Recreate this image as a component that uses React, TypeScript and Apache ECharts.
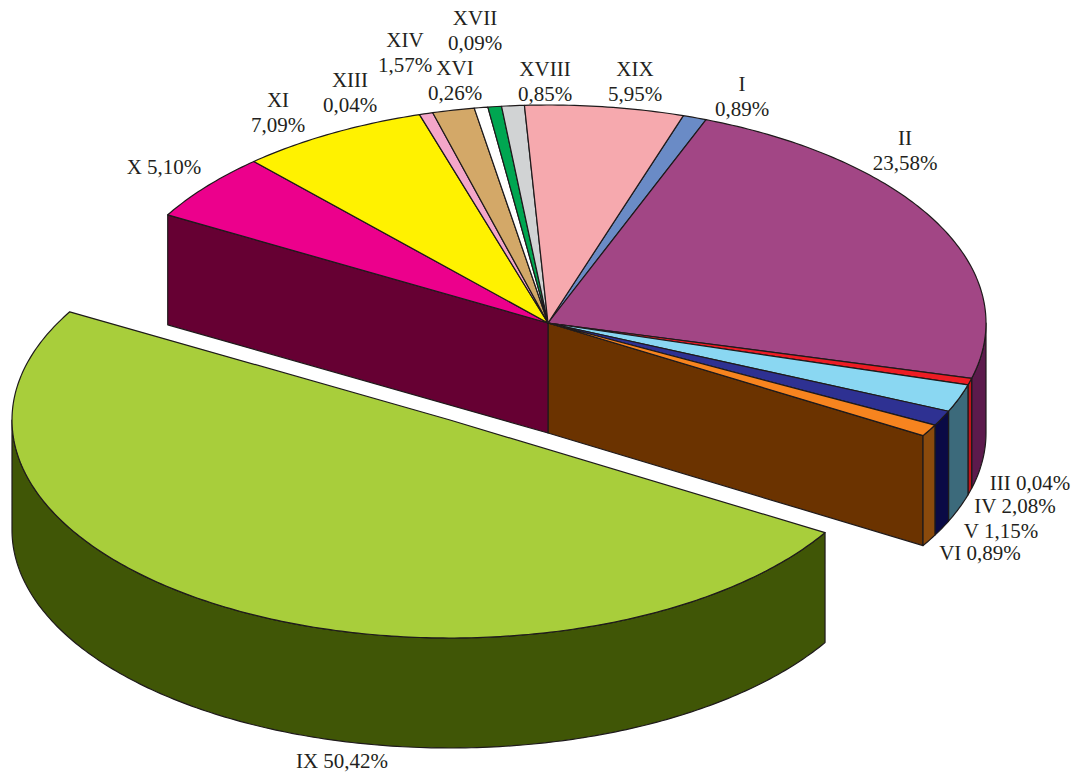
import { useEffect, useRef } from "react";
import * as echarts from "echarts";

// ---- data ----
const CATEGORIES = ["I", "II", "III", "IV", "V", "VI", "IX", "X", "XI", "XIII", "XIV", "XVI", "XVII", "XVIII", "XIX"];
const VALUES = [0.89, 23.58, 0.04, 2.08, 1.15, 0.89, 50.42, 5.1, 7.09, 0.04, 1.57, 0.26, 0.09, 0.85, 5.95];
const EXPLODED = ["IX"];

// ---- styles ----
const TOP_COLORS = ["#6A8BC6", "#A24685", "#ED1C24", "#8AD7F2", "#2E3192", "#F7841F", "#A8CE3B", "#EC008C", "#FFF200", "#F4A6C9", "#D3A868", "#FFFFFF", "#00A651", "#D1D3D4", "#F6A9AE"];
const SIDE_COLORS = ["#3D5585", "#5C1A4C", "#C0141B", "#3C6A7B", "#0A0A45", "#8A4A0C", "#405606", "#7A003F", "#B5A800", "#B06A88", "#8E6A38", "#BBBBBB", "#006B33", "#8F9192", "#B06A70"];
const FACE_COLORS = ["#2E4068", "#4A123C", "#900E14", "#2C4F5C", "#050530", "#6B3300", "#33460A", "#660033", "#8A8000", "#8A5068", "#6E5028", "#999999", "#004F25", "#6F7172", "#8A5054"];

const LABEL_LAYOUT: Record<string, { x: number; y: number; twoLine: boolean }> = {
  I: { x: 742, y: 96, twoLine: true },
  II: { x: 905, y: 150, twoLine: true },
  III: { x: 1030, y: 483, twoLine: false },
  IV: { x: 1015, y: 506, twoLine: false },
  V: { x: 1001, y: 531, twoLine: false },
  VI: { x: 980, y: 553, twoLine: false },
  IX: { x: 342, y: 761, twoLine: false },
  X: { x: 164, y: 167, twoLine: false },
  XI: { x: 278, y: 112, twoLine: true },
  XIII: { x: 350, y: 92, twoLine: true },
  XIV: { x: 405, y: 52, twoLine: true },
  XVI: { x: 455, y: 80, twoLine: true },
  XVII: { x: 475, y: 30, twoLine: true },
  XVIII: { x: 545, y: 81, twoLine: true },
  XIX: { x: 635, y: 81, twoLine: true },
};

const GEO = {
  cx: 548,
  cy: 323,
  rx: 438,
  ry: 218,
  depth: 110,
  startAngle: -72,
  minAngle: 1.8,
  explodeX: -98,
  explodeY: 97,
};

const STROKE = "#1e1a1b";
const FONT = "Liberation Serif, serif";

function computeAngles(values: number[]) {
  const total = values.reduce((s, v) => s + v, 0);
  const raw = values.map((v) => (v / total) * 360);
  const small = raw.map((a) => a < GEO.minAngle);
  const fixed = small.filter(Boolean).length * GEO.minAngle;
  const rest = raw.reduce((s, a, i) => (small[i] ? s : s + a), 0);
  const k = (360 - fixed) / rest;
  const spans = raw.map((a, i) => (small[i] ? GEO.minAngle : a * k));
  const out: [number, number][] = [];
  let cur = GEO.startAngle;
  spans.forEach((s) => {
    out.push([cur, cur + s]);
    cur += s;
  });
  return out;
}

export default function App() {
  const ref = useRef<HTMLDivElement>(null);

  useEffect(() => {
    document.body.style.margin = "0";
    if (!ref.current) return;
    const chart = echarts.init(ref.current, undefined, { renderer: "svg" });
    const angles = computeAngles(VALUES);
    const n = VALUES.length;
    const rad = (d: number) => (d * Math.PI) / 180;

    const renderItem = (params: any) => {
      const i = params.dataIndex;
      const name = CATEGORIES[i];
      const [a0, a1] = angles[i];
      const isEx = EXPLODED.includes(name);
      const ox = isEx ? GEO.explodeX : 0;
      const oy = isEx ? GEO.explodeY : 0;
      const zb = isEx ? 20 : 0;
      const cx = GEO.cx + ox;
      const cy = GEO.cy + oy;
      const pt = (a: number, dy = 0): number[] => [cx + GEO.rx * Math.cos(rad(a)), cy + GEO.ry * Math.sin(rad(a)) + dy];
      const arc = (from: number, to: number, dy = 0) => {
        const steps = Math.max(2, Math.ceil(Math.abs(to - from) / 0.75));
        const pts: number[][] = [];
        for (let s = 0; s <= steps; s++) pts.push(pt(from + ((to - from) * s) / steps, dy));
        return pts;
      };
      const children: any[] = [];
      const style = (fill: string) => ({ fill, stroke: STROKE, lineWidth: 1.2, lineJoin: "round" });

      // radial faces (only where a neighbour is exploded or the slice itself is)
      const prevEx = EXPLODED.includes(CATEGORIES[(i - 1 + n) % n]);
      const nextEx = EXPLODED.includes(CATEGORIES[(i + 1) % n]);
      const faceAt = (a: number) => [[cx, cy], pt(a), pt(a, GEO.depth), [cx, cy + GEO.depth]];
      if ((isEx || prevEx) && Math.sin(rad(a0 - 90)) > 0) {
        children.push({ type: "polygon", shape: { points: faceAt(a0) }, style: style(FACE_COLORS[i]), z2: zb + 1 });
      }
      if ((isEx || nextEx) && Math.sin(rad(a1 + 90)) > 0) {
        children.push({ type: "polygon", shape: { points: faceAt(a1) }, style: style(FACE_COLORS[i]), z2: zb + 1 });
      }

      // outer wall (front half only)
      for (let k = -1; k <= 1; k++) {
        const lo = Math.max(a0, 360 * k);
        const hi = Math.min(a1, 360 * k + 180);
        if (hi > lo) {
          const pts = arc(lo, hi).concat(arc(hi, lo, GEO.depth));
          children.push({ type: "polygon", shape: { points: pts }, style: style(SIDE_COLORS[i]), z2: zb + 2 });
        }
      }

      // top face
      const top = [[cx, cy]].concat(arc(a0, a1));
      children.push({ type: "polygon", shape: { points: top }, style: style(TOP_COLORS[i]), z2: zb + 3 });

      // label
      const lay = LABEL_LAYOUT[name];
      if (lay) {
        const pct = VALUES[i].toFixed(2).replace(".", ",") + "%";
        children.push({
          type: "text",
          x: lay.x,
          y: lay.y,
          z2: 100,
          style: {
            text: name + (lay.twoLine ? "\n" : " ") + pct,
            fill: "#231f20",
            fontSize: 21,
            fontFamily: FONT,
            align: "center",
            verticalAlign: "middle",
            lineHeight: 25,
          },
        });
      }
      return { type: "group", children };
    };

    chart.setOption({
      animation: false,
      backgroundColor: "#ffffff",
      series: [
        {
          type: "custom",
          coordinateSystem: "none",
          silent: true,
          renderItem,
          data: CATEGORIES.map((c, i) => ({ name: c, value: VALUES[i] })),
        },
      ],
    });
    return () => chart.dispose();
  }, []);

  return <div ref={ref} style={{ width: 1075, height: 775 }} />;
}
